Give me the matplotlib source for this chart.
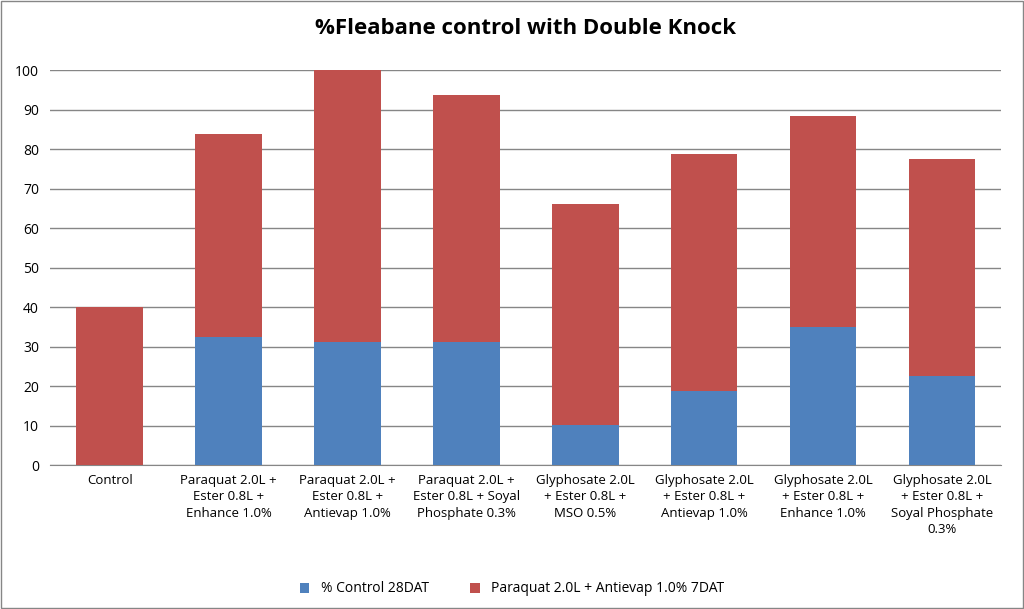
import matplotlib.pyplot as plt
import numpy as np

categories = [
    "Control",
    "Paraquat 2.0L +\nEster 0.8L +\nEnhance 1.0%",
    "Paraquat 2.0L +\nEster 0.8L +\nAntievap 1.0%",
    "Paraquat 2.0L +\nEster 0.8L + Soyal\nPhosphate 0.3%",
    "Glyphosate 2.0L\n+ Ester 0.8L +\nMSO 0.5%",
    "Glyphosate 2.0L\n+ Ester 0.8L +\nAntievap 1.0%",
    "Glyphosate 2.0L\n+ Ester 0.8L +\nEnhance 1.0%",
    "Glyphosate 2.0L\n+ Ester 0.8L +\nSoyal Phosphate\n0.3%",
]
control_28dat = [0, 32.5, 31.2, 31.2, 10.2, 18.8, 35.0, 22.5]
totals = [40.0, 83.8, 100.0, 93.8, 66.2, 78.8, 88.3, 77.5]
paraquat_7dat = [t - b for t, b in zip(totals, control_28dat)]

plt.rcParams["font.family"] = "Open Sans"
fig = plt.figure(figsize=(10.24, 6.09), dpi=100)
ax = fig.add_axes([0.049, 0.236, 0.929, 0.649])

x = np.arange(len(categories))
ax.bar(x, control_28dat, width=0.56, color="#4F81BD", label="% Control 28DAT", zorder=3)
ax.bar(x, paraquat_7dat, width=0.56, bottom=control_28dat, color="#C0504D",
       label="Paraquat 2.0L + Antievap 1.0% 7DAT", zorder=3)

ax.set_xlim(-0.5, len(categories) - 0.5)
ax.set_ylim(0, 100)
ax.set_yticks(range(0, 101, 10))
ax.yaxis.grid(True, color="#868686", linewidth=1, zorder=0)
ax.set_xticks(x)
ax.set_xticklabels(categories, fontsize=9.5, linespacing=1.35)
ax.tick_params(axis="y", labelsize=10, length=0, pad=8)
ax.tick_params(axis="x", length=0, pad=6)
for s in ["top", "right", "left"]:
    ax.spines[s].set_visible(False)
ax.spines["bottom"].set_color("#868686")

fig.suptitle("%Fleabane control with Double Knock", x=0.513, y=0.97,
             fontsize=16, fontweight="bold")
fig.legend(loc="lower center", bbox_to_anchor=(0.5, 0.0), ncol=2, frameon=False,
           fontsize=10, handlelength=0.7, handleheight=0.7, columnspacing=3)
fig.patches.append(plt.Rectangle((0.001, 0.001), 0.998, 0.998, transform=fig.transFigure,
                                 fill=False, edgecolor="#868686", linewidth=1))
fig.savefig("out.png", dpi=100)
